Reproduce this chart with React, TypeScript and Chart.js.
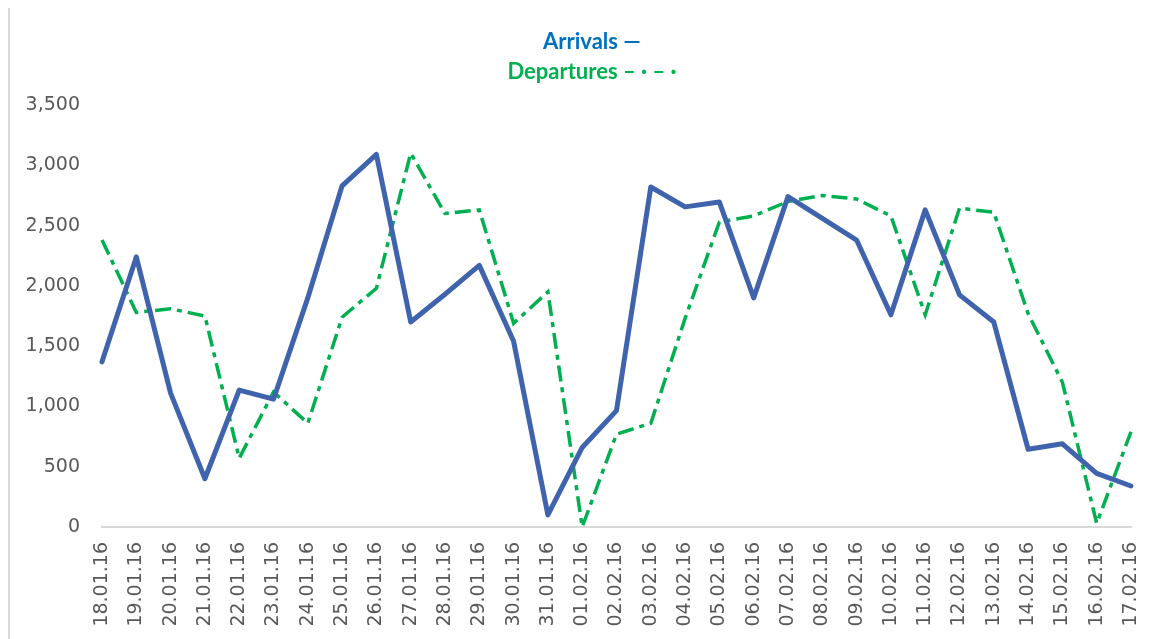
import React, { useEffect, useRef } from "react";
import { Chart, registerables } from "chart.js";

Chart.register(...registerables);

const dates = [
  "18.01.16", "19.01.16", "20.01.16", "21.01.16", "22.01.16", "23.01.16", "24.01.16",
  "25.01.16", "26.01.16", "27.01.16", "28.01.16", "29.01.16", "30.01.16", "31.01.16",
  "01.02.16", "02.02.16", "03.02.16", "04.02.16", "05.02.16", "06.02.16", "07.02.16",
  "08.02.16", "09.02.16", "10.02.16", "11.02.16", "12.02.16", "13.02.16", "14.02.16",
  "15.02.16", "16.02.16", "17.02.16",
];

const arrivals = [
  1370, 2240, 1110, 400, 1135, 1060, 1900,
  2830, 3090, 1700, 1930, 2170, 1540, 100,
  660, 965, 2820, 2655, 2695, 1900, 2740,
  2560, 2380, 1760, 2630, 1925, 1700, 645,
  690, 445, 340,
];

const departures = [
  2380, 1780, 1810, 1750, 570, 1120, 860,
  1740, 1980, 3100, 2600, 2630, 1690, 1950,
  0, 770, 860, 1730, 2530, 2580, 2700,
  2750, 2720, 2580, 1760, 2645, 2610, 1770,
  1200, 30, 790,
];

const yTicks = [0, 500, 1000, 1500, 2000, 2500, 3000, 3500];

const legendNames = ["Arrivals", "Departures"];
const legendSymbols = ["\u2014", "\u2013 \u00b7 \u2013 \u00b7"];
const legendColors = ["#0070C0", "#00B050"];

const legendPlugin = {
  id: "textLegend",
  afterDraw(chart: any) {
    const ctx = chart.ctx;
    ctx.save();
    ctx.textBaseline = "middle";
    ctx.textAlign = "left";
    ctx.font = "bold 22px Lato";
    const cx = 582;
    legendNames.forEach((name, i) => {
      ctx.fillStyle = legendColors[i];
      const nameW = ctx.measureText(name + " ").width;
      const symW = ctx.measureText(legendSymbols[i]).width;
      const x = cx - (nameW + symW) / 2;
      const y = 34 + i * 30;
      ctx.fillText(name + " ", x, y);
      ctx.fillText(legendSymbols[i], x + nameW, y);
    });
    ctx.restore();
  },
};

export default function App() {
  const ref = useRef<HTMLCanvasElement | null>(null);

  useEffect(() => {
    if (!ref.current) return;
    const chart = new Chart(ref.current, {
      type: "line",
      data: {
        labels: dates,
        datasets: [
          {
            label: "Arrivals",
            data: arrivals,
            borderColor: "#3F63AD",
            borderWidth: 5,
            pointRadius: 0,
            tension: 0,
            fill: false,
            clip: false as any,
            borderJoinStyle: "round",
            borderCapStyle: "round",
          },
          {
            label: "Departures",
            data: departures,
            borderColor: "#00B050",
            borderWidth: 3.5,
            borderDash: [16, 6, 5, 6],
            pointRadius: 0,
            tension: 0,
            fill: false,
            clip: false as any,
            borderJoinStyle: "miter",
          },
        ],
      },
      options: {
        animation: false,
        responsive: false,
        maintainAspectRatio: false,
        layout: { padding: { top: 97, right: 22, left: 0, bottom: 0 } },
        plugins: {
          legend: { display: false },
          title: { display: false },
          tooltip: { enabled: false },
        },
        scales: {
          x: {
            offset: false,
            grid: { display: false, drawTicks: false },
            border: { display: true, color: "#d9d9d9", width: 2 },
            ticks: {
              autoSkip: false,
              maxRotation: 90,
              minRotation: 90,
              padding: 15,
              color: "#595959",
              font: { family: "DejaVu Sans", size: 19 },
            },
            afterFit: (s: any) => {
              s.height = 112;
              s.paddingLeft = 0;
              s.paddingRight = 0;
            },
          },
          y: {
            min: 0,
            max: 3500,
            grid: { display: false, drawTicks: false },
            border: { display: false },
            afterBuildTicks: (s: any) => {
              s.ticks = yTicks.map((v) => ({ value: v }));
            },
            ticks: {
              padding: 22,
              color: "#595959",
              font: { family: "DejaVu Sans", size: 19 },
              callback: (v: any) => Number(v).toLocaleString("en-US"),
            },
            afterFit: (s: any) => {
              s.width = 92;
              s.paddingTop = 0;
              s.paddingBottom = 0;
            },
          },
        },
      },
      plugins: [legendPlugin],
    });
    return () => chart.destroy();
  }, []);

  return (
    <div
      style={{
        marginTop: -2,
        width: 1145,
        height: 633,
        borderLeft: "2px solid #d9d9d9",
        borderTop: "2px solid #d9d9d9",
        boxSizing: "border-box",
        background: "#fff",
        overflow: "hidden",
      }}
    >
      <canvas ref={ref} width={1143} height={631} style={{ display: "block" }} />
    </div>
  );
}
